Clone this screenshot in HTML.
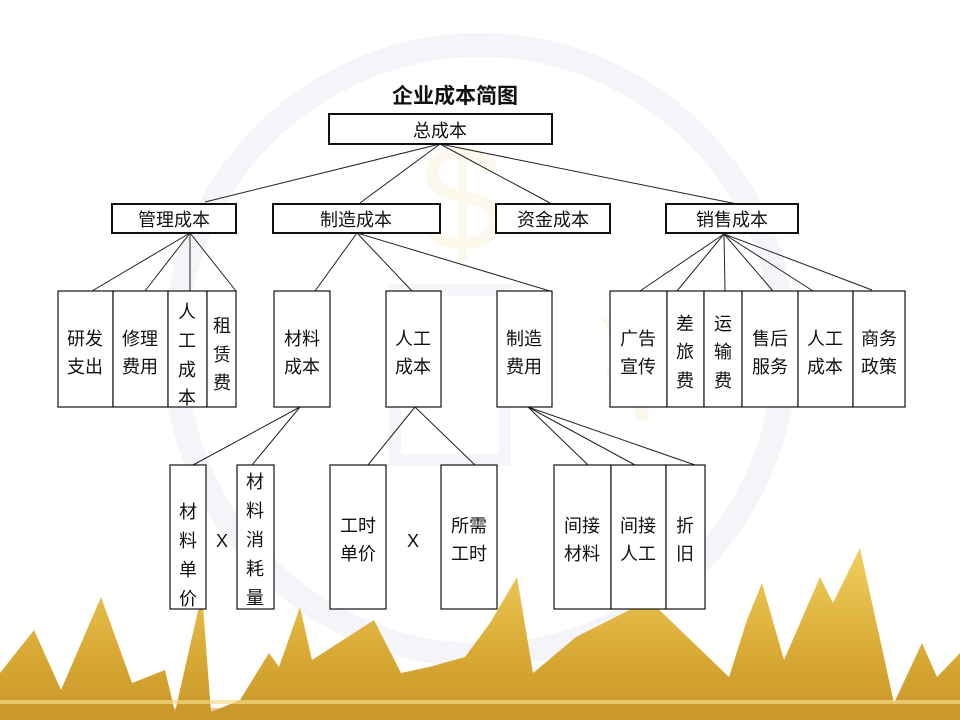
<!DOCTYPE html>
<html><head><meta charset="utf-8"><style>
html,body{margin:0;padding:0;background:#fff;}
svg{display:block;}
text{font-family:"Liberation Sans","Noto Sans CJK SC",sans-serif;font-size:18px;fill:#111;}
</style></head><body>
<svg width="960" height="720" viewBox="0 0 960 720" xmlns="http://www.w3.org/2000/svg">
<defs>
<linearGradient id="g" x1="0" y1="0" x2="0" y2="1">
<stop offset="0" stop-color="#f0d060"/><stop offset="0.6" stop-color="#d9aa35"/><stop offset="1" stop-color="#c8962a"/>
</linearGradient>
</defs>
<!-- watermark -->
<circle cx="480" cy="350" r="305" fill="none" stroke="#f4f5f9" stroke-width="24"/>
<rect x="395" y="290" width="110" height="170" fill="none" stroke="#f5f6fa" stroke-width="12"/>
<text x="420" y="250" style="font-size:150px;fill:#fdf8ec">$</text>
<text x="600" y="420" style="font-size:150px;fill:#fdf8ec">¥</text>
<!-- mountains -->
<polygon fill="url(#g)" points="0,720 0,673 34,630 61,690 101,597 132,683 165,670 175,712 202,593 211,712 240,700 269,653 279,667 300,607 312,660 374,620 401,673 429,667 465,657 490,623 517,577 533,673 576,637 649,600 729,677 747,620 762,583 784,660 820,577 833,603 860,548 894,703 922,643 937,677 960,653 960,720"/>
<rect x="0" y="700" width="960" height="4" fill="#f3dc8a" opacity="0.7"/>
<rect x="0" y="708" width="960" height="12" fill="#c9992c" opacity="0.5"/>

<g stroke="#222" stroke-width="1" fill="none">
<line x1="440" y1="144" x2="205" y2="202"/>
<line x1="440" y1="144" x2="360" y2="203"/>
<line x1="440" y1="144" x2="550" y2="203"/>
<line x1="440" y1="144" x2="742" y2="205"/>
<line x1="190" y1="233" x2="92" y2="291"/>
<line x1="190" y1="233" x2="145" y2="291"/>
<line x1="190" y1="233" x2="190" y2="291"/>
<line x1="190" y1="233" x2="236" y2="291"/>
<line x1="357" y1="233" x2="315" y2="291"/>
<line x1="357" y1="233" x2="412" y2="291"/>
<line x1="357" y1="233" x2="550" y2="291"/>
<line x1="724" y1="234" x2="640" y2="291"/>
<line x1="724" y1="234" x2="677" y2="291"/>
<line x1="724" y1="234" x2="725" y2="291"/>
<line x1="724" y1="234" x2="773" y2="291"/>
<line x1="724" y1="234" x2="813" y2="291"/>
<line x1="724" y1="234" x2="872" y2="290"/>
<line x1="300" y1="407" x2="193" y2="465"/>
<line x1="300" y1="407" x2="252" y2="465"/>
<line x1="415" y1="407" x2="368" y2="465"/>
<line x1="415" y1="407" x2="475" y2="465"/>
<line x1="528" y1="407" x2="588" y2="465"/>
<line x1="528" y1="407" x2="635" y2="465"/>
<line x1="528" y1="407" x2="695" y2="465"/>
</g>
<g fill="#fff" stroke="#111" stroke-width="2">
<rect x="329" y="114" width="223" height="30"/>
<rect x="112" y="204" width="124" height="29"/>
<rect x="273" y="204" width="167" height="29"/>
<rect x="496" y="204" width="114" height="29"/>
<rect x="666" y="204" width="132" height="29"/>
</g>
<g fill="#fff" stroke="#111" stroke-width="1.2">
<rect x="58" y="291" width="55" height="116"/>
<rect x="113" y="291" width="55" height="116"/>
<rect x="168" y="291" width="39" height="116"/>
<rect x="207" y="291" width="29" height="116"/>
<rect x="274" y="291" width="56" height="116"/>
<rect x="386" y="291" width="55" height="116"/>
<rect x="497" y="291" width="55" height="116"/>
<rect x="610" y="291" width="57" height="116"/>
<rect x="667" y="291" width="37" height="116"/>
<rect x="704" y="291" width="38" height="116"/>
<rect x="742" y="291" width="56" height="116"/>
<rect x="798" y="291" width="55" height="116"/>
<rect x="853" y="291" width="52" height="116"/>
<rect x="170" y="465" width="36" height="144"/>
<rect x="237" y="465" width="37" height="144"/>
<rect x="330" y="465" width="56" height="144"/>
<rect x="441" y="465" width="56" height="144"/>
<rect x="554" y="465" width="57" height="144"/>
<rect x="611" y="465" width="55" height="144"/>
<rect x="666" y="465" width="39" height="144"/>
</g>
<g text-anchor="middle">
<text x="455" y="103" style="font-size:21px;font-weight:bold">企业成本简图</text>
<text x="440" y="137">总成本</text>
<text x="174" y="226">管理成本</text>
<text x="356" y="226">制造成本</text>
<text x="553" y="226">资金成本</text>
<text x="732" y="226">销售成本</text>

<text x="85" y="345">研发</text><text x="85" y="373">支出</text>
<text x="140" y="345">修理</text><text x="140" y="373">费用</text>
<text x="187" y="318">人</text><text x="187" y="347">工</text><text x="187" y="376">成</text><text x="187" y="404">本</text>
<text x="222" y="332">租</text><text x="222" y="361">赁</text><text x="222" y="389">费</text>
<text x="302" y="345">材料</text><text x="302" y="373">成本</text>
<text x="413" y="345">人工</text><text x="413" y="373">成本</text>
<text x="524" y="345">制造</text><text x="524" y="373">费用</text>
<text x="638" y="345">广告</text><text x="638" y="373">宣传</text>
<text x="685" y="330">差</text><text x="685" y="358">旅</text><text x="685" y="387">费</text>
<text x="723" y="330">运</text><text x="723" y="358">输</text><text x="723" y="387">费</text>
<text x="770" y="345">售后</text><text x="770" y="373">服务</text>
<text x="825" y="345">人工</text><text x="825" y="373">成本</text>
<text x="879" y="345">商务</text><text x="879" y="373">政策</text>

<text x="188" y="518">材</text><text x="188" y="547">料</text><text x="188" y="576">单</text><text x="188" y="605">价</text>
<text x="222" y="547">X</text>
<text x="255" y="488">材</text><text x="255" y="517">料</text><text x="255" y="546">消</text><text x="255" y="575">耗</text><text x="255" y="604">量</text>
<text x="358" y="532">工时</text><text x="358" y="560">单价</text>
<text x="413" y="547">X</text>
<text x="469" y="532">所需</text><text x="469" y="560">工时</text>
<text x="582" y="532">间接</text><text x="582" y="560">材料</text>
<text x="638" y="532">间接</text><text x="638" y="560">人工</text>
<text x="685" y="532">折</text><text x="685" y="560">旧</text>
</g>
</svg>
</body></html>
